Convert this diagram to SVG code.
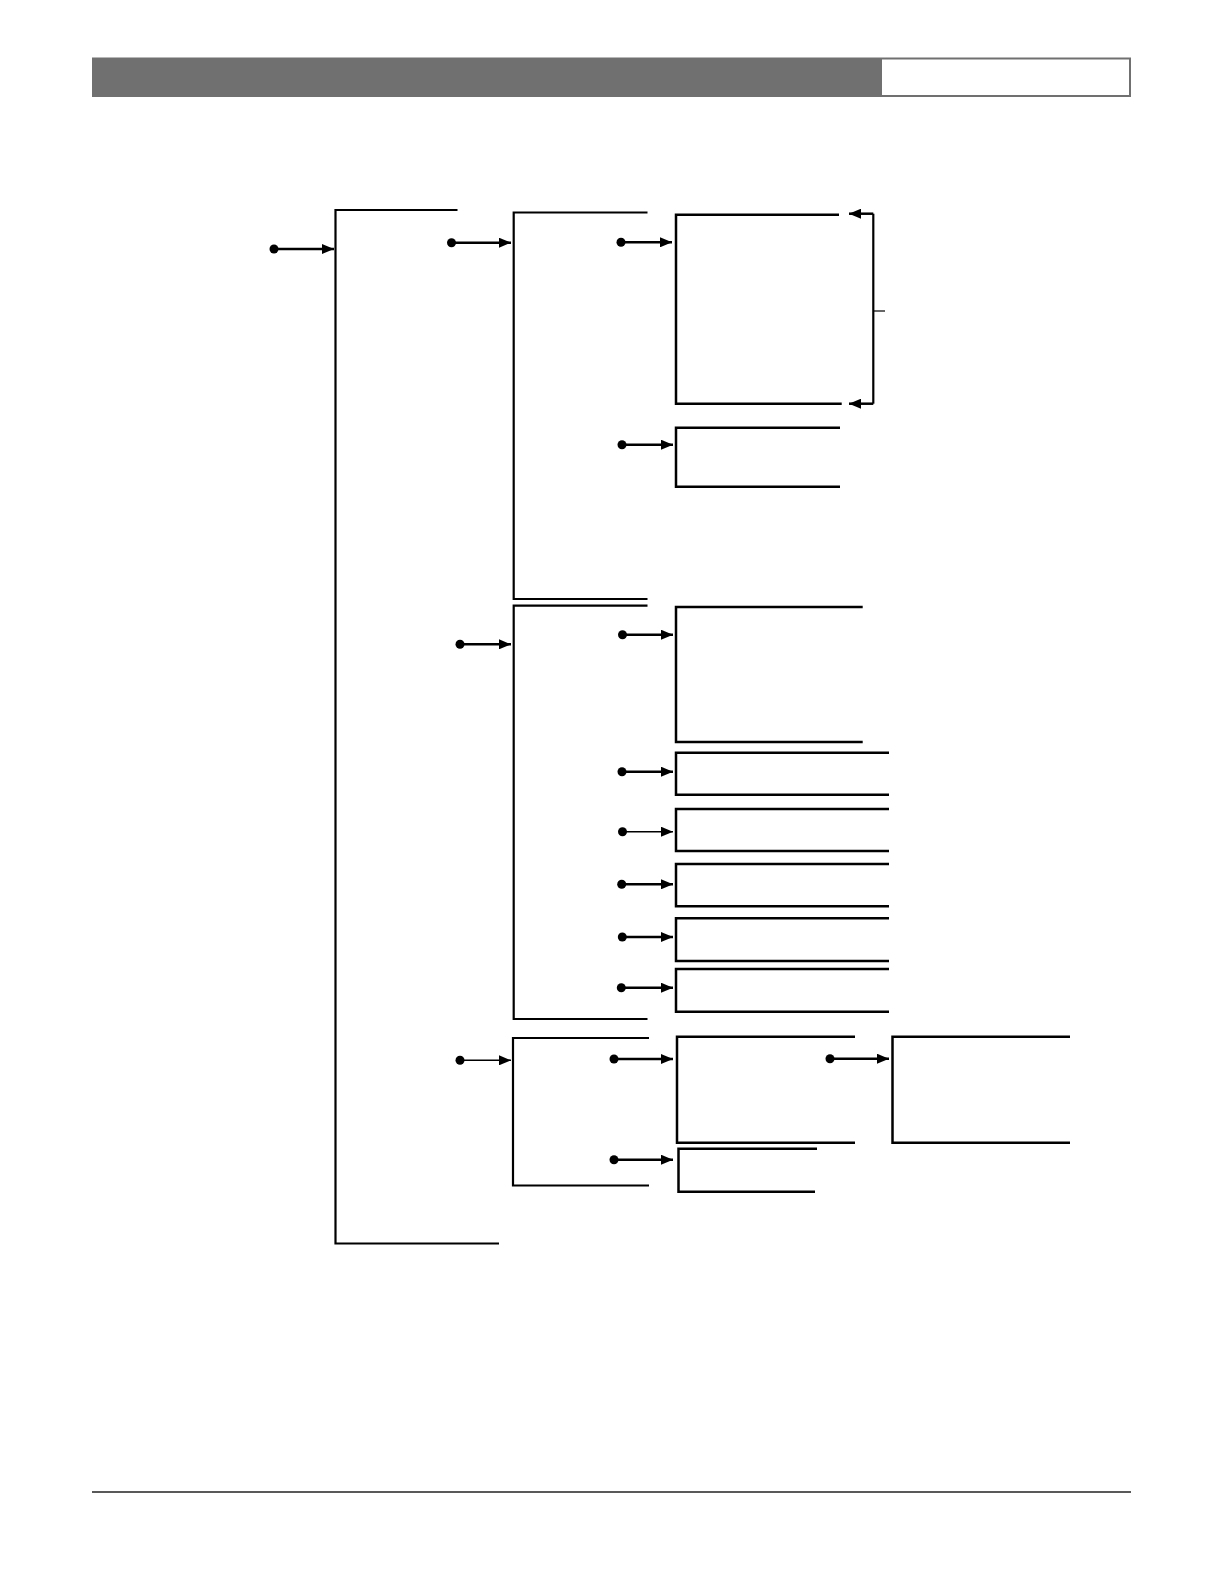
<svg xmlns="http://www.w3.org/2000/svg" width="1224" height="1584" viewBox="0 0 1224 1584">
<style>
.frame{fill:none;stroke:#000;stroke-width:2.5;stroke-linejoin:miter}
.br{fill:none;stroke:#000;stroke-width:2.2}
.arr{fill:none;stroke:#000;stroke-width:2.5;marker-end:url(#ah)}
.arr.thin{stroke-width:1.6}
.dot{fill:#000}
</style>
<defs>
<marker id="ah" markerUnits="userSpaceOnUse" markerWidth="12" markerHeight="10" refX="12" refY="5" orient="auto">
<path d="M0,0 L12,5 L0,10 z" fill="#000"/>
</marker>
</defs>
<rect width="1224" height="1584" fill="#fff"/>
<g id="header">
<rect x="92" y="57.5" width="1039" height="39.5" fill="#717070"/>
<rect x="882" y="59.5" width="247" height="35.5" fill="#fff"/>
</g>
<line id="footer" x1="92" y1="1492" x2="1131" y2="1492" stroke="#222" stroke-width="1.5"/>
<g id="brackets">
<path id="b1" class="br" d="M457.5,210 H335.5 V1243.5 H499"/>
<path id="b2" class="br" d="M647.5,212.5 H513.7 V599 H647.5"/>
<path id="b3" class="br" d="M647.5,605.7 H513.7 V1019 H647.5"/>
<path id="b4" class="br" d="M649,1038 H513 V1185.5 H649"/>
</g>
<g id="nodes">
<path id="n1" class="frame" d="M839,214.7 H676 V403.7 H841.7"/>
<path id="n2" class="frame" d="M840,427.7 H676 V486.7 H840"/>
<path id="n3" class="frame" d="M862.7,607 H676 V742 H862.7"/>
<path id="n4" class="frame" d="M889,752.7 H676 V794.7 H889"/>
<path id="n5" class="frame" d="M889,809 H676 V851 H889"/>
<path id="n6" class="frame" d="M889,864 H676 V906.3 H889"/>
<path id="n7" class="frame" d="M889,918.3 H676 V961 H889"/>
<path id="n8" class="frame" d="M889,969 H676 V1011.7 H889"/>
<path id="n9" class="frame" d="M855,1036.7 H677 V1142.7 H855"/>
<path id="n10" class="frame" d="M1070,1036.7 H892.5 V1142.7 H1070"/>
<path id="n11" class="frame" d="M817,1148.7 H678.5 V1191.7 H815"/>
</g>
<g id="connectors">
<circle class="dot" cx="274" cy="249" r="4.5"/><line class="arr" x1="274" y1="249" x2="334" y2="249"/>
<circle class="dot" cx="451.5" cy="242.7" r="4.5"/><line class="arr" x1="451.5" y1="242.7" x2="511" y2="242.7"/>
<circle class="dot" cx="621" cy="242.3" r="4.5"/><line class="arr" x1="621" y1="242.3" x2="672" y2="242.3"/>
<circle class="dot" cx="622" cy="444.7" r="4.5"/><line class="arr" x1="622" y1="444.7" x2="673" y2="444.7"/>
<circle class="dot" cx="460" cy="644.3" r="4.5"/><line class="arr" x1="460" y1="644.3" x2="511" y2="644.3"/>
<circle class="dot" cx="622.5" cy="634.7" r="4.5"/><line class="arr" x1="622.5" y1="634.7" x2="673" y2="634.7"/>
<circle class="dot" cx="622" cy="771.7" r="4.5"/><line class="arr" x1="622" y1="771.7" x2="673" y2="771.7"/>
<circle class="dot" cx="622.5" cy="831.7" r="4.5"/><line class="arr thin" x1="622.5" y1="831.7" x2="673" y2="831.7"/>
<circle class="dot" cx="621.7" cy="884.3" r="4.5"/><line class="arr" x1="621.7" y1="884.3" x2="673" y2="884.3"/>
<circle class="dot" cx="622.3" cy="937" r="4.5"/><line class="arr" x1="622.3" y1="937" x2="673" y2="937"/>
<circle class="dot" cx="621.3" cy="987.7" r="4.5"/><line class="arr" x1="621.3" y1="987.7" x2="673" y2="987.7"/>
<circle class="dot" cx="460" cy="1060.3" r="4.5"/><line class="arr thin" x1="460" y1="1060.3" x2="511" y2="1060.3"/>
<circle class="dot" cx="614" cy="1059" r="4.5"/><line class="arr" x1="614" y1="1059" x2="673" y2="1059"/>
<circle class="dot" cx="830" cy="1058.7" r="4.5"/><line class="arr" x1="830" y1="1058.7" x2="889" y2="1058.7"/>
<circle class="dot" cx="614" cy="1159.7" r="4.5"/><line class="arr" x1="614" y1="1159.7" x2="673" y2="1159.7"/>
<path class="br" d="M873.3,213.7 V403.7"/>
<line class="arr" x1="873.3" y1="213.7" x2="849" y2="213.7"/>
<line class="arr" x1="873.3" y1="403.7" x2="849" y2="403.7"/>
<line x1="873.3" y1="311" x2="885" y2="311" stroke="#000" stroke-width="1.2"/>
</g>
</svg>
